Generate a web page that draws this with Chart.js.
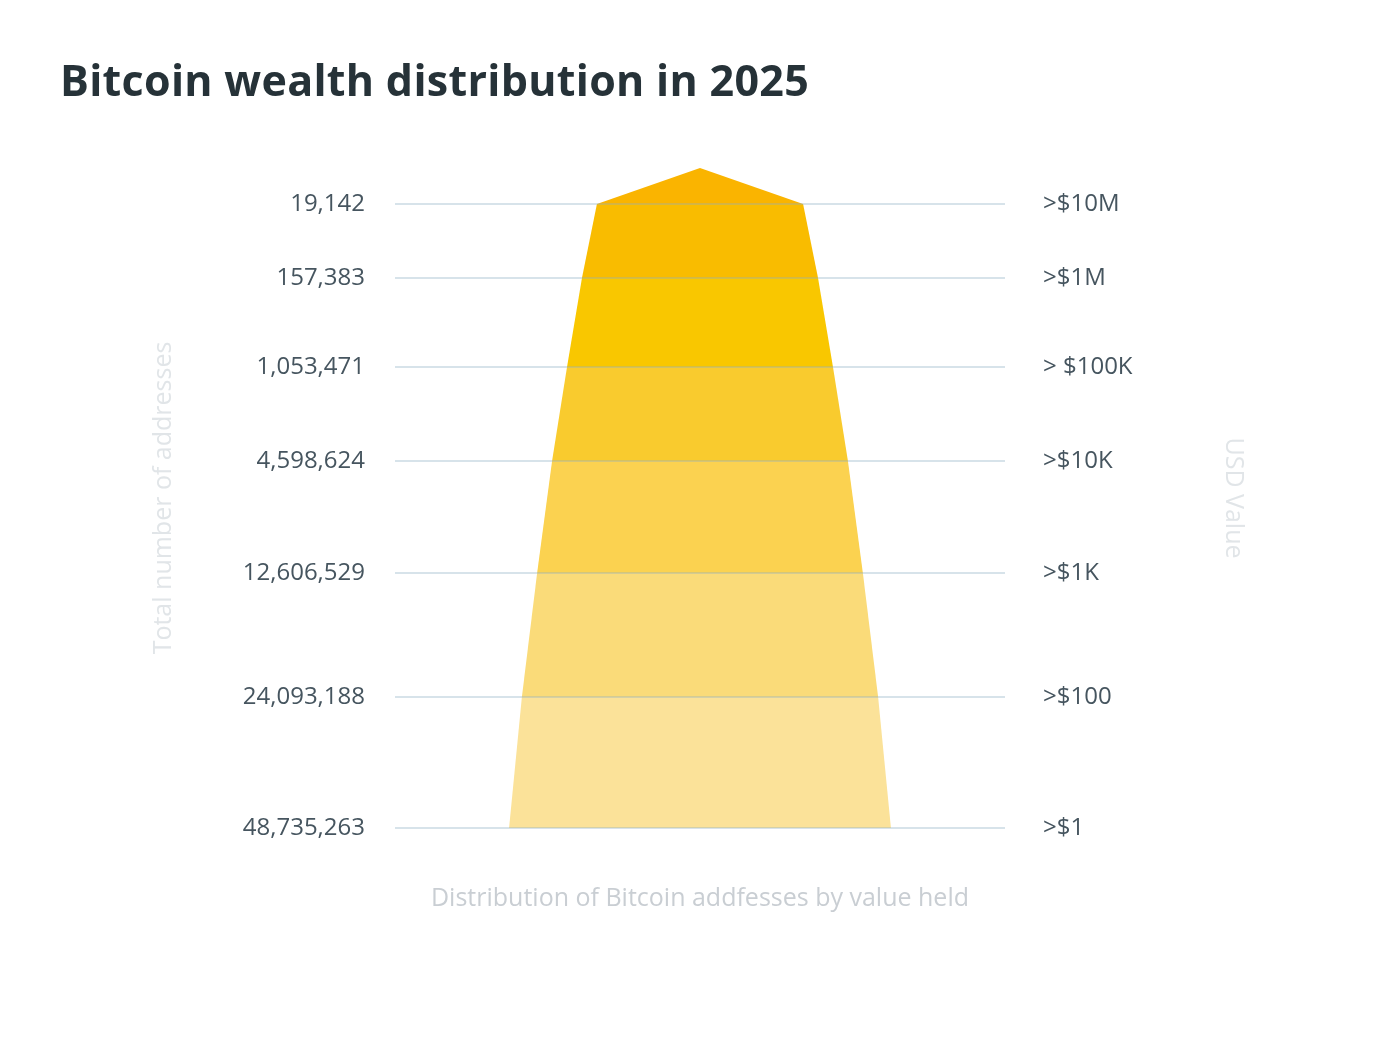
<!DOCTYPE html>
<html>
<head>
<meta charset="utf-8">
<script src="https://cdn.jsdelivr.net/npm/chart.js@4"></script>
<style>
  body { margin: 0; background: #fff; font-family: "Open Sans", sans-serif; }
  #wrap { position: absolute; left: 0; top: 0; width: 1400px; height: 1041px; }
  h1 { position: absolute; left: 60px; top: 50px; margin: 0; font-size: 43px; font-weight: 700; color: #263238; letter-spacing: 0.3px; }
</style>
</head>
<body>
<div id="wrap"><canvas id="myChart" width="1400" height="1041"></canvas></div>
<h1>Bitcoin wealth distribution in 2025</h1>
<script>
// --- DATA ---
const addressLabels = ['19,142', '157,383', '1,053,471', '4,598,624', '12,606,529', '24,093,188', '48,735,263'];
const usdLabels = ['>$10M', '>$1M', '> $100K', '>$10K', '>$1K', '>$100', '>$1'];
// vertical level of each line (top = 0)
const levels = [0, 0.74, 1.63, 2.57, 3.69, 4.93, 6.24];
const apexLevel = -0.36;
// half width of the pyramid at each level (axis runs -1..1)
const halfWidths = [0.338, 0.387, 0.436, 0.485, 0.534, 0.584, 0.626];
const bandColors = ['#FAB400', '#F9BC00', '#F9C700', '#F9CB2E', '#FBD250', '#FADB79', '#FBE299'];

// --- PYRAMID PLUGIN (drawn before the grid, so lines sit on top) ---
const pyramid = {
    id: 'pyramid',
    beforeDraw(chart) {
        const c = chart.ctx, x = chart.scales.x, y = chart.scales.y;
        for (let i = 0; i < levels.length; i++) {
            c.beginPath();
            if (i === 0) {
                c.moveTo(x.getPixelForValue(0), y.getPixelForValue(apexLevel));
            } else {
                c.moveTo(x.getPixelForValue(-halfWidths[i - 1]), y.getPixelForValue(levels[i - 1]));
                c.lineTo(x.getPixelForValue(halfWidths[i - 1]), y.getPixelForValue(levels[i - 1]));
            }
            c.lineTo(x.getPixelForValue(halfWidths[i]), y.getPixelForValue(levels[i]));
            c.lineTo(x.getPixelForValue(-halfWidths[i]), y.getPixelForValue(levels[i]));
            c.closePath();
            c.fillStyle = bandColors[i];
            c.fill();
        }
    }
};

const tickFont = { family: 'Open Sans', size: 24 };
const ctx = document.getElementById('myChart').getContext('2d');
let myChart = new Chart(ctx, {
    type: 'scatter',
    data: { datasets: [{ data: [], pointRadius: 0 }] },
    plugins: [pyramid],
    options: {
        responsive: false,
        animation: false,
        layout: { padding: { left: 145, right: 148, top: 168, bottom: 123 } },
        plugins: { legend: { display: false }, tooltip: { enabled: false } },
        scales: {
            x: {
                min: -1, max: 1,
                grid: { display: false },
                border: { display: false },
                ticks: { display: false },
                title: { display: true, text: 'Distribution of Bitcoin addfesses by value held', color: '#c9ced3', font: { family: 'Open Sans', size: 25 }, padding: { top: 32 } },
                afterFit(s) { s.height = 90; }
            },
            y: {
                reverse: true, min: apexLevel, max: levels[levels.length - 1],
                afterBuildTicks(s) { s.ticks = levels.map(v => ({ value: v })); },
                ticks: {
                    color: '#46555f', font: tickFont, padding: 30,
                    callback: (v, i) => addressLabels[i]
                },
                grid: { color: 'rgba(140,175,195,0.35)', lineWidth: 2, drawTicks: false },
                border: { display: false },
                title: { display: true, text: 'Total number of addresses', color: '#e1e5e8', font: { family: 'Open Sans', size: 25 } },
                afterFit(s) { s.width = 250; }
            },
            y2: {
                position: 'right',
                reverse: true, min: apexLevel, max: levels[levels.length - 1],
                afterBuildTicks(s) { s.ticks = levels.map(v => ({ value: v })); },
                ticks: {
                    color: '#46555f', font: tickFont, padding: 30,
                    callback: (v, i) => usdLabels[i]
                },
                grid: { display: false },
                border: { display: false },
                title: { display: true, text: 'USD Value', color: '#e1e5e8', font: { family: 'Open Sans', size: 25 } },
                afterFit(s) { s.width = 247; }
            }
        }
    }
});
</script>
</body>
</html>
